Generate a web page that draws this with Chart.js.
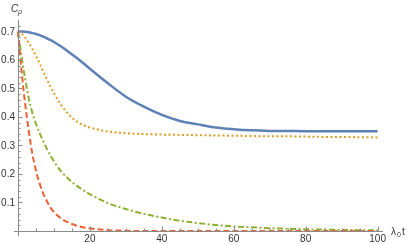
<!DOCTYPE html>
<html>
<head>
<meta charset="utf-8">
<script src="https://cdn.jsdelivr.net/npm/chart.js@4"></script>
<style>
  html, body { margin: 0; padding: 0; background: #fff; }
  #wrap { width: 409px; height: 245px; }
</style>
</head>
<body>
<div id="wrap"><canvas id="chart" width="409" height="245"></canvas></div>
<script>
// sample times (lambda_0 t)
const t = [0, 1, 2, 3, 4, 5, 6, 7, 8, 9, 10, 12, 14, 16, 18, 20, 25, 30, 35, 40,
           45, 50, 55, 60, 65, 70, 75, 80, 85, 90, 95, 100];

// series
const blueVals = [0.700, 0.700, 0.699, 0.697, 0.694, 0.691, 0.687, 0.682, 0.676, 0.670, 0.663,
                  0.647, 0.629, 0.610, 0.590, 0.569, 0.518, 0.471, 0.436, 0.407, 0.386, 0.374,
                  0.363, 0.357, 0.353, 0.351, 0.3505, 0.350, 0.350, 0.350, 0.350, 0.350];
const orangeVals = [0.700, 0.692, 0.678, 0.660, 0.638, 0.613, 0.588, 0.560, 0.533, 0.507, 0.483,
                    0.442, 0.410, 0.387, 0.372, 0.363, 0.349, 0.343, 0.340, 0.338, 0.337, 0.336,
                    0.335, 0.334, 0.333, 0.332, 0.332, 0.331, 0.330, 0.330, 0.329, 0.328];
const greenVals = [0.700, 0.612, 0.532, 0.465, 0.414, 0.376, 0.344, 0.315, 0.289, 0.265, 0.244,
                   0.209, 0.183, 0.162, 0.144, 0.129, 0.098, 0.077, 0.060, 0.047, 0.036, 0.028,
                   0.021, 0.016, 0.013, 0.010, 0.008, 0.006, 0.005, 0.004, 0.003, 0.003];
const redVals = [0.700, 0.560, 0.445, 0.350, 0.270, 0.212, 0.167, 0.132, 0.105, 0.083, 0.066,
                 0.044, 0.030, 0.020, 0.013, 0.009, 0.003, 0.001, 0, 0, 0, 0,
                 0, 0, 0, 0, 0, 0, 0, 0, 0, 0];

// tick labels
const xTickLabels = [20, 40, 60, 80, 100];
const yTickLabels = [0.1, 0.2, 0.3, 0.4, 0.5, 0.6, 0.7];

const axisColor = '#8a8a8a';
const textColor = '#333';

function pts(vals) {
    return t.map((x, i) => ({ x: x, y: vals[i] }));
}

// Mathematica style axes: inward ticks, labels, axis titles
const axesPlugin = {
    id: 'axesPlugin',
    afterDraw(chart) {
        const ctx = chart.ctx;
        const xs = chart.scales.x;
        const ys = chart.scales.y;
        const x0 = xs.getPixelForValue(0);
        const y0 = ys.getPixelForValue(0);
        const area = chart.chartArea;

        ctx.save();
        ctx.strokeStyle = axisColor;
        ctx.lineWidth = 1;

        // axis lines
        ctx.beginPath();
        ctx.moveTo(x0 - 4, y0 + 0.5);
        ctx.lineTo(area.right, y0 + 0.5);
        ctx.moveTo(x0 + 0.5, y0 + 5);
        ctx.lineTo(x0 + 0.5, area.top);
        ctx.stroke();

        // x ticks every 5, major every 20
        ctx.beginPath();
        for (let v = 5; v <= 100; v += 5) {
            const px = Math.round(xs.getPixelForValue(v)) + 0.5;
            const len = v % 20 === 0 ? 4.5 : 2.5;
            ctx.moveTo(px, y0);
            ctx.lineTo(px, y0 - len);
        }
        // y ticks every 0.02, major every 0.1
        for (let k = 1; k <= 36; k++) {
            const v = k * 0.02;
            const py = Math.round(ys.getPixelForValue(v)) + 0.5;
            const len = k % 5 === 0 ? 4.5 : 2.5;
            ctx.moveTo(x0, py);
            ctx.lineTo(x0 + len, py);
        }
        ctx.stroke();

        // tick labels
        ctx.fillStyle = textColor;
        ctx.font = '10px "Liberation Sans", Arial, sans-serif';
        ctx.textAlign = 'center';
        ctx.textBaseline = 'top';
        xTickLabels.forEach(v => {
            ctx.fillText(String(v), xs.getPixelForValue(v), y0 + 3);
        });
        ctx.textAlign = 'right';
        ctx.textBaseline = 'middle';
        yTickLabels.forEach(v => {
            ctx.fillText(v.toFixed(1), x0 - 3, ys.getPixelForValue(v) + 0.5);
        });

        // axis titles
        ctx.textAlign = 'left';
        ctx.textBaseline = 'alphabetic';
        ctx.font = 'italic 10px "Liberation Sans", Arial, sans-serif';
        ctx.fillText('C', 11, 12);
        ctx.font = 'italic 7px "Liberation Sans", Arial, sans-serif';
        ctx.fillText('ρ', 18, 14);

        ctx.font = '10px "Liberation Sans", Arial, sans-serif';
        ctx.fillText('λ', 391, 235);
        ctx.font = '7px "Liberation Sans", Arial, sans-serif';
        ctx.fillText('0', 397, 237);
        ctx.font = '10px "Liberation Sans", Arial, sans-serif';
        ctx.fillText('t', 402, 235);
        ctx.restore();
    }
};

const ctx = document.getElementById('chart').getContext('2d');
new Chart(ctx, {
    type: 'line',
    data: {
        datasets: [
            {
                label: 'blue',
                data: pts(blueVals),
                borderColor: '#5E81B5',
                borderWidth: 2.5,
                order: 4
            },
            {
                label: 'orange',
                data: pts(orangeVals),
                borderColor: '#E19C24',
                borderWidth: 2,
                borderDash: [2, 2.5],
                order: 3
            },
            {
                label: 'green',
                data: pts(greenVals),
                borderColor: '#8FB032',
                borderWidth: 2,
                borderDash: [6, 2.5, 2, 2.5],
                order: 2
            },
            {
                label: 'red',
                data: pts(redVals),
                borderColor: '#EB6235',
                borderWidth: 2,
                borderDash: [6, 3],
                order: 1
            }
        ]
    },
    options: {
        responsive: false,
        animation: false,
        clip: false,
        layout: {
            padding: { left: 18, right: 26, top: 20, bottom: 14 }
        },
        elements: {
            point: { radius: 0 },
            line: { cubicInterpolationMode: 'monotone', fill: false }
        },
        scales: {
            x: { type: 'linear', min: 0, max: 101.5, display: false },
            y: { type: 'linear', min: 0, max: 0.74, display: false }
        },
        plugins: {
            legend: { display: false },
            tooltip: { enabled: false }
        }
    },
    plugins: [axesPlugin]
});
</script>
</body>
</html>
